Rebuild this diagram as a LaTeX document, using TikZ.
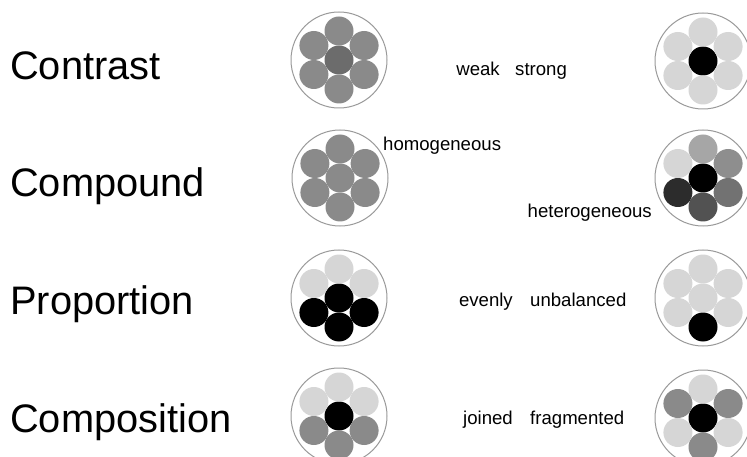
\documentclass[tikz,border=0pt]{standalone}
\usepackage{fontspec}
\setmainfont{Liberation Sans}
\definecolor{lg}{HTML}{D6D6D6}
\definecolor{mg}{HTML}{8A8A8A}
\definecolor{dg}{HTML}{6C6C6C}
\definecolor{hA}{HTML}{A6A6A6}
\definecolor{hB}{HTML}{8E8E8E}
\definecolor{hC}{HTML}{727272}
\definecolor{hD}{HTML}{525252}
\definecolor{hE}{HTML}{2C2C2C}
\definecolor{rimc}{HTML}{9A9A9A}
\newcommand\mydisc[9]{%
  \draw[rim] (#1,#2) circle[radius=48];
  \fill[#3] (#1,#2) circle[radius=14.5];
  \fill[#4] ($(#1,#2)+(0,-29)$) circle[radius=14.5];
  \fill[#5] ($(#1,#2)+(25.1,-14.5)$) circle[radius=14.5];
  \fill[#6] ($(#1,#2)+(25.1,14.5)$) circle[radius=14.5];
  \fill[#7] ($(#1,#2)+(0,29)$) circle[radius=14.5];
  \fill[#8] ($(#1,#2)+(-25.1,14.5)$) circle[radius=14.5];
  \fill[#9] ($(#1,#2)+(-25.1,-14.5)$) circle[radius=14.5];
}
\usetikzlibrary{calc}
\tikzset{
  big/.style={anchor=base west,font=\fontsize{39.8}{40}\selectfont,inner sep=0},
  small/.style={font=\fontsize{18.6}{19}\selectfont,inner sep=0},
  rim/.style={draw=rimc,line width=1pt,fill=white}
}
\begin{document}
\begin{tikzpicture}[x=1pt,y=-1pt]
\useasboundingbox (0,0) rectangle (747,457);
\node[big] (t1) at (10,80) {Contrast};
\node[big] (t2) at (10,197) {Compound};
\node[big] (t3) at (10,314) {Proportion};
\node[big] (t4) at (10,432) {Composition};
\mydisc{339}{60}{dg}{mg}{mg}{mg}{mg}{mg}{mg}
\mydisc{703}{61}{black}{lg}{lg}{lg}{lg}{lg}{lg}
\mydisc{340}{178}{mg}{mg}{mg}{mg}{mg}{mg}{mg}
\mydisc{703}{178}{black}{hA}{hB}{hC}{hD}{hE}{lg}
\mydisc{339}{298}{black}{lg}{lg}{black}{black}{black}{lg}
\mydisc{703}{298}{lg}{lg}{lg}{lg}{black}{lg}{lg}
\mydisc{339}{416}{black}{lg}{lg}{mg}{mg}{mg}{lg}
\mydisc{703}{418}{black}{lg}{mg}{lg}{mg}{lg}{mg}
\node[small,anchor=base east] (l1) at (500,76) {weak};
\node[small,anchor=base west] (r1) at (515,76) {strong};
\node[small,anchor=base west] (l2) at (383,151) {homogeneous};
\node[small,anchor=base east] (r2) at (652,218) {heterogeneous};
\node[small,anchor=base east] (l3) at (513,306) {evenly};
\node[small,anchor=base west] (r3) at (530,306) {unbalanced};
\node[small,anchor=base east] (l4) at (513,424) {joined};
\node[small,anchor=base west] (r4) at (530,424) {fragmented};
\end{tikzpicture}
\end{document}
